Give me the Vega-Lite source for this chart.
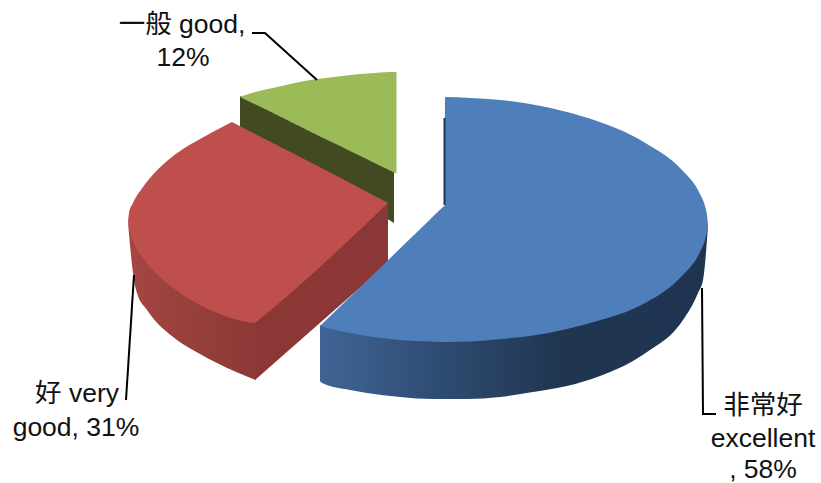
{
"$schema":"https://vega.github.io/schema/vega-lite/v6.json",
"width":821,"height":483,"padding":0,
"autosize":{"type":"none"},
"background":"#ffffff",
"config":{"view":{"stroke":null}},
"datasets":{
"faces":[
{"part":"green wall","share":12,"x":240,"top":96,"bottom":127},
{"part":"green wall","share":12,"x":394,"top":171.5,"bottom":223},
{"part":"green top","share":12,"x":240,"top":97,"bottom":97},
{"part":"green top","share":12,"x":241,"top":96.6,"bottom":97.5},
{"part":"green top","share":12,"x":277,"top":87,"bottom":115},
{"part":"green top","share":12,"x":317,"top":79,"bottom":135},
{"part":"green top","share":12,"x":330,"top":77.5,"bottom":141.3},
{"part":"green top","share":12,"x":345,"top":75.8,"bottom":148.5},
{"part":"green top","share":12,"x":360,"top":74,"bottom":155.8},
{"part":"green top","share":12,"x":375,"top":72.9,"bottom":163.2},
{"part":"green top","share":12,"x":385,"top":72.3,"bottom":168.1},
{"part":"green top","share":12,"x":392,"top":72,"bottom":171.5},
{"part":"green top","share":12,"x":395,"top":72,"bottom":173},
{"part":"green top","share":12,"x":396.5,"top":72,"bottom":173.5},
{"part":"red cut","share":31,"x":255,"top":321.5,"bottom":380},
{"part":"red cut","share":31,"x":388,"top":202,"bottom":263},
{"part":"red top","share":31,"x":128,"top":222,"bottom":222},
{"part":"red top","share":31,"x":129,"top":213,"bottom":228},
{"part":"red top","share":31,"x":133,"top":203,"bottom":241},
{"part":"red top","share":31,"x":143,"top":187,"bottom":258},
{"part":"red top","share":31,"x":150,"top":178,"bottom":267},
{"part":"red top","share":31,"x":167,"top":161,"bottom":283},
{"part":"red top","share":31,"x":183,"top":149,"bottom":295},
{"part":"red top","share":31,"x":200,"top":139,"bottom":305},
{"part":"red top","share":31,"x":231,"top":122.5,"bottom":318},
{"part":"red top","share":31,"x":232,"top":122,"bottom":318.3},
{"part":"red top","share":31,"x":233,"top":122.5,"bottom":318.6},
{"part":"red top","share":31,"x":255,"top":134,"bottom":323},
{"part":"red top","share":31,"x":256,"top":134.5,"bottom":322.2},
{"part":"red top","share":31,"x":388,"top":203,"bottom":203},
{"part":"blue top","share":58,"x":320,"top":326,"bottom":326},
{"part":"blue top","share":58,"x":321,"top":325,"bottom":326.3},
{"part":"blue top","share":58,"x":350,"top":297,"bottom":333},
{"part":"blue top","share":58,"x":400,"top":248.6,"bottom":340},
{"part":"blue top","share":58,"x":430,"top":219.5,"bottom":341.5},
{"part":"blue top","share":58,"x":440,"top":209.8,"bottom":342},
{"part":"blue top","share":58,"x":443,"top":206.9,"bottom":342},
{"part":"blue top","share":58,"x":444.9,"top":205,"bottom":342},
{"part":"blue top","share":58,"x":445,"top":97,"bottom":342},
{"part":"blue top","share":58,"x":470,"top":98,"bottom":341.5},
{"part":"blue top","share":58,"x":500,"top":100,"bottom":339},
{"part":"blue top","share":58,"x":530,"top":104,"bottom":336},
{"part":"blue top","share":58,"x":567,"top":112,"bottom":329},
{"part":"blue top","share":58,"x":597,"top":121,"bottom":321},
{"part":"blue top","share":58,"x":633,"top":136,"bottom":309},
{"part":"blue top","share":58,"x":647,"top":144,"bottom":302},
{"part":"blue top","share":58,"x":677,"top":165,"bottom":281},
{"part":"blue top","share":58,"x":683,"top":171,"bottom":275},
{"part":"blue top","share":58,"x":700,"top":194,"bottom":252},
{"part":"blue top","share":58,"x":705,"top":206,"bottom":240},
{"part":"blue top","share":58,"x":707,"top":215,"bottom":232},
{"part":"blue top","share":58,"x":708,"top":225,"bottom":225},
{"part":"blue sliver","share":58,"x":443.5,"top":118,"bottom":205},
{"part":"blue sliver","share":58,"x":445.5,"top":118,"bottom":205}
],
"redWall":[
{"x":128,"top":222,"bottom":222},
{"x":133,"top":239,"bottom":273},
{"x":137,"top":247,"bottom":293},
{"x":147,"top":261,"bottom":310},
{"x":177,"top":287,"bottom":340},
{"x":200,"top":303,"bottom":354},
{"x":217,"top":310,"bottom":363},
{"x":255.5,"top":321,"bottom":380}
],
"blueWall":[
{"x":320,"top":325,"bottom":381},
{"x":322,"top":325,"bottom":383},
{"x":350,"top":331,"bottom":390},
{"x":367,"top":334,"bottom":393},
{"x":400,"top":338,"bottom":397},
{"x":433,"top":340,"bottom":399},
{"x":467,"top":339.5,"bottom":399},
{"x":500,"top":337,"bottom":397},
{"x":533,"top":333.5,"bottom":392},
{"x":567,"top":327,"bottom":386},
{"x":600,"top":318,"bottom":376},
{"x":633,"top":307,"bottom":361},
{"x":650,"top":298,"bottom":350},
{"x":677,"top":279,"bottom":328},
{"x":683,"top":273,"bottom":320},
{"x":698,"top":250,"bottom":293},
{"x":703,"top":241,"bottom":280},
{"x":708,"top":225,"bottom":226}
],
"leaders":[
{"slice":"good","seq":1,"x":252,"y":33},
{"slice":"good","seq":2,"x":265,"y":33},
{"slice":"good","seq":3,"x":317,"y":80},
{"slice":"very good","seq":1,"x":134,"y":275},
{"slice":"very good","seq":2,"x":126,"y":400},
{"slice":"excellent","seq":1,"x":702,"y":288},
{"slice":"excellent","seq":2,"x":703,"y":414},
{"slice":"excellent","seq":3,"x":716,"y":414}
],
"labels":[
{"label":"一般 good,","x":182,"y":25},
{"label":"12%","x":183,"y":58},
{"label":"好 very","x":77,"y":394},
{"label":"good, 31%","x":76,"y":428},
{"label":"非常好","x":763,"y":406},
{"label":"excellent","x":763,"y":439},
{"label":", 58%","x":763,"y":470}
]
},
"encoding":{
"x":{"field":"x","type":"quantitative","axis":null,"scale":{"domain":[0,821],"nice":false,"zero":false}}
},
"layer":[
{"data":{"name":"faces"},
 "transform":[{"filter":"indexof(['green wall','green top'],datum.part)>=0"}],
 "mark":{"type":"area","interpolate":"monotone"},
 "encoding":{
  "y":{"field":"top","type":"quantitative","axis":null,"scale":{"domain":[483,0],"nice":false,"zero":false}},
  "y2":{"field":"bottom"},
  "color":{"field":"part","type":"nominal","legend":null,"scale":{"domain":["green wall","green top","red cut","red top","blue top","blue sliver"],"range":["#414A22","#9BBB59","#8A3736","#BE4F4C","#4F7FBB","#1F3450"]}}}},
{"data":{"name":"redWall"},
 "mark":{"type":"area","interpolate":"monotone","fill":{"gradient":"linear","x1":0,"y1":0,"x2":1,"y2":0,"stops":[{"offset":0,"color":"#A64643"},{"offset":0.5,"color":"#973F3C"},{"offset":1,"color":"#8C3937"}]}},
 "encoding":{"y":{"field":"top","type":"quantitative","axis":null},"y2":{"field":"bottom"}}},
{"data":{"name":"faces"},
 "transform":[{"filter":"indexof(['red cut','red top'],datum.part)>=0"}],
 "mark":{"type":"area","interpolate":"monotone"},
 "encoding":{
  "y":{"field":"top","type":"quantitative","axis":null},
  "y2":{"field":"bottom"},
  "color":{"field":"part","type":"nominal","legend":null}}},
{"data":{"name":"blueWall"},
 "mark":{"type":"area","interpolate":"monotone","fill":{"gradient":"linear","x1":0,"y1":0,"x2":1,"y2":0,"stops":[{"offset":0,"color":"#3F6595"},{"offset":0.3,"color":"#2F4C73"},{"offset":0.62,"color":"#203650"},{"offset":1,"color":"#1F3450"}]}},
 "encoding":{"y":{"field":"top","type":"quantitative","axis":null},"y2":{"field":"bottom"}}},
{"data":{"name":"faces"},
 "transform":[{"filter":"indexof(['blue sliver','blue top'],datum.part)>=0"}],
 "mark":{"type":"area","interpolate":"monotone"},
 "encoding":{
  "y":{"field":"top","type":"quantitative","axis":null},
  "y2":{"field":"bottom"},
  "color":{"field":"part","type":"nominal","legend":null}}},
{"data":{"name":"leaders"},
 "mark":{"type":"line","color":"#000000","strokeWidth":2},
 "encoding":{
  "y":{"field":"y","type":"quantitative","axis":null},
  "detail":{"field":"slice"},
  "order":{"field":"seq"}}},
{"data":{"name":"labels"},
 "mark":{"type":"text","font":"Liberation Sans, Noto Sans CJK SC","fontSize":26.5,"color":"#111111","align":"center","baseline":"middle"},
 "encoding":{
  "y":{"field":"y","type":"quantitative","axis":null},
  "text":{"field":"label"}}}
]
}
